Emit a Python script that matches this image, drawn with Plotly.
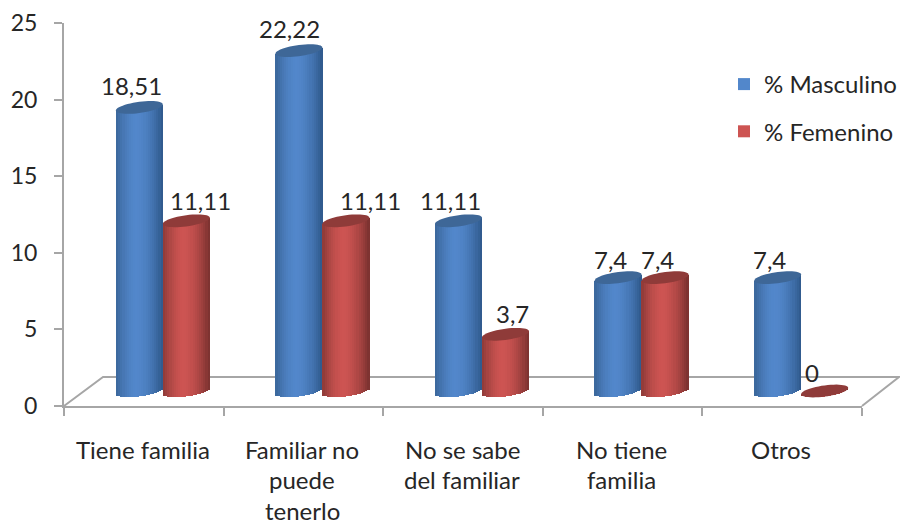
import math
import plotly.graph_objects as go

CATEGORIES = ["Tiene familia", "Familiar no|puede|tenerlo", "No se sabe|del familiar", "No tiene|familia", "Otros"]
MASCULINO = [18.51, 22.22, 11.11, 7.4, 7.4]
FEMENINO = [11.11, 11.11, 3.7, 7.4, 0]
Y_TICKS = [0, 5, 10, 15, 20, 25]

# ---- plot geometry (pixels) ----
W, H = 900, 525
L, R, T, B = 64, 862, 23, 406
PX_X = (R - L) / 5
PX_Y = (B - T) / 25
FONT = "Lato"
TXT = "#262626"
GRID = "#a6a6a6"
FS = 24

def ux(p): return p / PX_X
def uy(p): return p / PX_Y
def pap_x(p): return (p - L) / (R - L)
def pap_y(p): return (B - p) / (B - T)

BASE = uy(B - 391)          # 3D depth lift of the column feet
A, BB, S = 23.5, 5.6, 0.13  # cap semi axes, tilt
DEPTH = ux(19)              # horizontal 3D shift
N = 22

def lerp(c1, c2, t):
    return "rgb(" + ",".join(str(round(a + (b - a) * t)) for a, b in zip(c1, c2)) + ")"

def shade(u, left, mid, right):
    if u < -0.15:
        t = ((u + 0.15) / -0.85)
        return lerp(mid, left, t ** 1.6)
    t = (u + 0.15) / 1.15
    return lerp(mid, right, t ** 1.8)

def cyl_trace(name, values, center_shift, left, mid, right, group):
    xs, ys, bases, widths, colors = [], [], [], [], []
    order = sorted(range(N), key=lambda k: abs((k + 0.5) / N * 2 - 1.0 + 0.15))
    for i, v in enumerate(values):
        for k in order:
            u = (k + 0.5) / N * 2 - 1
            cx = i + DEPTH + center_shift + u * ux(A)
            low = -S * A * u + BB * math.sqrt(max(0, 1 - u * u))
            mid_line = -S * A * u
            b = BASE - uy(low)
            top = BASE + v - uy(mid_line)
            xs.append(cx)
            ys.append(top - b)
            bases.append(b)
            widths.append(ux(2 * A / N) * 1.15)
            colors.append(shade(u, left, mid, right))
    return go.Bar(name=name, x=xs, y=ys, base=bases, width=widths, legendgroup=group,
                  marker=dict(color=colors, line=dict(width=0)), hoverinfo="skip", showlegend=True)

SHIFT_M, SHIFT_F = -ux(23.5), ux(23.5)
BLUE = ((58, 102, 154), (82, 135, 203), (46, 88, 138))
RED = ((142, 58, 55), (205, 84, 82), (120, 48, 46))
CAP_BLUE, CAP_RED = "#3e6797", "#8f3b39"

def cap(xc, v, color):
    pts = []
    for j in range(48):
        t = 2 * math.pi * j / 48
        px = A * math.cos(t)
        py = BB * math.sin(t) - S * A * math.cos(t)
        pts.append((xc + ux(px), BASE + v - uy(py)))
    path = "M" + "L".join(f"{a:.4f},{b:.4f}" for a, b in pts) + "Z"
    return dict(type="path", xref="x", yref="y", path=path, fillcolor=color, line=dict(width=0), layer="above")

floor = [(L, B), (103, 377), (899, 377), (R, B)]
floor_path = "M" + "L".join(f"{pap_x(a):.4f},{pap_y(b):.4f}" for a, b in floor)
shapes = [dict(type="path", xref="paper", yref="paper", path=floor_path, line=dict(color=GRID, width=2), layer="below")]
annotations = []

# data labels, hand placed in the original
DX_M, DY_M = [-8, -9, -8, -8, -8], [-22, -22, -20, -18, -18]
DX_F, DY_F = [14, 25, 7, -8, -13], [-20, -20, -21, -18, -19]

def fmt(v):
    return str(v).replace(".", ",")

for vals, shift, col, dxs, dys in ((MASCULINO, SHIFT_M, CAP_BLUE, DX_M, DY_M), (FEMENINO, SHIFT_F, CAP_RED, DX_F, DY_F)):
    for i, v in enumerate(vals):
        xc = i + DEPTH + shift
        shapes.append(cap(xc, v, col))
        annotations.append(dict(x=xc, y=BASE + v, xref="x", yref="y", text=fmt(v), showarrow=False,
                                xshift=dxs[i], yshift=-dys[i], font=dict(family=FONT, size=FS, color=TXT)))

for i, c in enumerate(CATEGORIES):
    for j, line in enumerate(c.split("|")):
        annotations.append(dict(x=i, y=0, xref="x", yref="y", text=line, showarrow=False, yanchor="middle",
                                yshift=-(43 + 30.5 * j), xshift=-1, font=dict(family=FONT, size=24, color=TXT)))

fig = go.Figure()
fig.add_trace(cyl_trace("% Masculino", MASCULINO, SHIFT_M, *BLUE, "m"))
fig.add_trace(cyl_trace("% Femenino", FEMENINO, SHIFT_F, *RED, "f"))

fig.update_layout(
    width=W, height=H, barmode="overlay", bargap=0,
    margin=dict(l=L, r=W - R, t=T, b=H - B, pad=0, autoexpand=False),
    paper_bgcolor="white", plot_bgcolor="white",
    font=dict(family=FONT, size=FS, color=TXT),
    shapes=shapes, annotations=annotations,
    legend=dict(x=pap_x(724), y=pap_y(62), xanchor="left", yanchor="top", tracegroupgap=13,
                font=dict(family=FONT, size=FS, color=TXT), bgcolor="rgba(0,0,0,0)", traceorder="grouped"),
    xaxis=dict(range=[-0.5, 4.5], tickmode="array", tickvals=[i - 0.5 for i in range(6)],
               showticklabels=False, ticks="outside", ticklen=8, tickcolor=GRID, tickwidth=2,
               showgrid=False, zeroline=False, showline=True, linecolor=GRID, linewidth=2),
    yaxis=dict(range=[0, 25], tickmode="array", tickvals=Y_TICKS, ticks="outside", ticklen=8,
               tickcolor=GRID, tickwidth=2, showgrid=False, zeroline=False, showline=True,
               linecolor=GRID, linewidth=2, ticklabelstandoff=12,
               tickfont=dict(family=FONT, size=23, color=TXT)),
)
fig.write_html("out.html", config={"displayModeBar": False},
               post_script="document.body.style.margin='0';document.body.style.overflow='hidden';")
